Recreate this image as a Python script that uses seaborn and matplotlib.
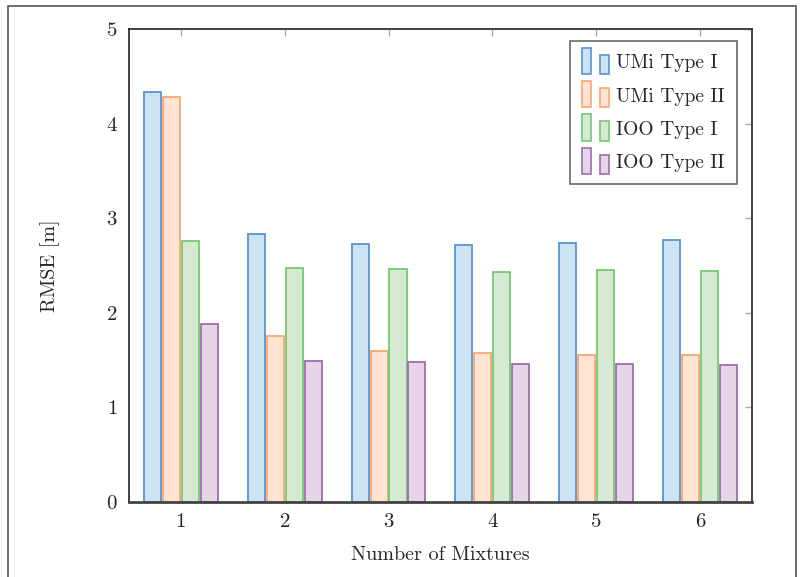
import matplotlib.pyplot as plt
import pandas as pd
import seaborn as sns
from matplotlib.legend_handler import HandlerBase
from matplotlib.patches import Rectangle

MIXTURES = ["1", "2", "3", "4", "5", "6"]
SERIES = ["UMi Type I", "UMi Type II", "IOO Type I", "IOO Type II"]
UMI_TYPE_I = [4.33, 2.83, 2.73, 2.72, 2.74, 2.77]
UMI_TYPE_II = [4.28, 1.75, 1.60, 1.58, 1.55, 1.55]
IOO_TYPE_I = [2.76, 2.47, 2.46, 2.43, 2.45, 2.44]
IOO_TYPE_II = [1.88, 1.49, 1.48, 1.46, 1.46, 1.45]

FACE = ["#cce3f1", "#ffe4d3", "#d6ead3", "#e5d5e6"]
EDGE = ["#5a93cf", "#f7a872", "#76c874", "#a06cad"]


class TwoBarHandler(HandlerBase):
    """pgfplots-style ybar legend image: two small bars."""

    def create_artists(self, legend, orig_handle, xdescent, ydescent,
                       width, height, fontsize, trans):
        fc = orig_handle.get_facecolor()
        ec = orig_handle.get_edgecolor()
        w = width * 0.35
        y0 = -ydescent - height * 0.2
        r1 = Rectangle((-xdescent, y0), w, height * 1.5,
                       facecolor=fc, edgecolor=ec, lw=1.2, transform=trans)
        r2 = Rectangle((-xdescent + width * 0.68, y0), w, height * 1.1,
                       facecolor=fc, edgecolor=ec, lw=1.2, transform=trans)
        return [r1, r2]


def main() -> None:
    values = [UMI_TYPE_I, UMI_TYPE_II, IOO_TYPE_I, IOO_TYPE_II]
    rows = []
    for name, vals in zip(SERIES, values):
        for m, v in zip(MIXTURES, vals):
            rows.append({"mixtures": m, "series": name, "rmse": v})
    df = pd.DataFrame(rows)

    sns.set_theme(style="white")
    plt.rcParams["font.family"] = ["cmr10", "DejaVu Serif"]
    plt.rcParams["axes.formatter.use_mathtext"] = True

    fig = plt.figure(figsize=(8.02, 5.77), dpi=100)
    fig.patches.append(Rectangle((0.010, -0.02), 0.9825, 1.0096,
                                 transform=fig.transFigure, fill=False,
                                 edgecolor="#555555", lw=1.2))
    ax = fig.add_axes([0.1608, 0.13, 0.7768, 0.8197])

    sns.barplot(data=df, x="mixtures", y="rmse", hue="series",
                order=MIXTURES, hue_order=SERIES, palette=FACE,
                saturation=1, width=0.73, gap=0.1, ax=ax, legend=False)
    for cont, ec in zip(ax.containers, EDGE):
        for bar in cont:
            bar.set_edgecolor(ec)
            bar.set_linewidth(1.3)

    ax.set_xlim(-0.5, 5.5)
    ax.set_ylim(0, 5)
    ax.set_yticks([0, 1, 2, 3, 4, 5])
    ax.set_xlabel("Number of Mixtures", fontsize=14.5, labelpad=11)
    ax.set_ylabel("RMSE [m]", fontsize=14.5, labelpad=33)
    ax.tick_params(direction="in", top=True, right=True, length=5,
                   width=1, color="#aaaaaa", labelsize=15, pad=8)
    for side in ax.spines.values():
        side.set_color("#333333")
        side.set_linewidth(1.3)
    ax.spines["bottom"].set_color("#444444")
    ax.spines["bottom"].set_linewidth(2)

    handles = [Rectangle((0, 0), 1, 1, facecolor=f, edgecolor=e)
               for f, e in zip(FACE, EDGE)]
    leg = ax.legend(handles, SERIES, handler_map={Rectangle: TwoBarHandler()},
                    loc="upper right", bbox_to_anchor=(0.976, 0.975),
                    borderaxespad=0, fontsize=14, frameon=True, fancybox=False,
                    handlelength=1.35, handleheight=1.0, handletextpad=0.4,
                    labelspacing=0.72, borderpad=0.62)
    leg.get_frame().set_edgecolor("#444444")
    leg.get_frame().set_linewidth(1.2)

    fig.savefig("out.png", dpi=100)


if __name__ == "__main__":
    main()
